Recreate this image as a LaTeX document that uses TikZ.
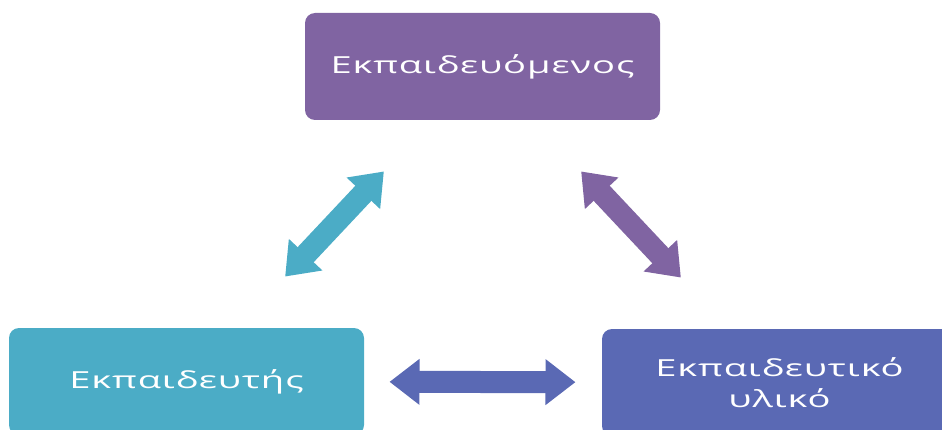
\documentclass[tikz,border=0pt]{standalone}
\usepackage{fontspec}
\setmainfont{Open Sans}[FakeStretch=1.62, LetterSpace=4]
\usetikzlibrary{arrows.meta}

\definecolor{learnerpurple}{RGB}{128,100,162}
\definecolor{teacherteal}{RGB}{75,172,198}
\definecolor{materialblue}{RGB}{90,105,180}

\tikzset{
  rolebox/.style={rectangle, rounded corners=10pt, minimum width=355pt,
    minimum height=107pt, inner sep=0pt, text=white, align=center,
    font=\fontsize{23.5}{31}\selectfont},
  linkarrow/.style={line width=22pt,
    {Triangle[length=30pt,width=44pt]}-{Triangle[length=30pt,width=44pt]}}
}

\begin{document}
\begin{tikzpicture}[x=1pt,y=1pt]
  \useasboundingbox (0,0) rectangle (942,429);
  \clip (0,0) rectangle (942,429);

  \node[rolebox, fill=learnerpurple] (learner) at (482.5,362.5) {Εκπαιδευόμενος};
  \node[rolebox, fill=teacherteal] (teacher) at (186.5,47.5) {Εκπαιδευτής};
  \node[rolebox, fill=materialblue] (material) at (779.5,46.5) {Εκπαιδευτικό\\υλικό};

  \draw[linkarrow, teacherteal, shorten <=144pt, shorten >=144pt] (learner.center) -- (teacher.center);
  \draw[linkarrow, learnerpurple, shorten <=144pt, shorten >=144pt] (learner.center) -- (material.center);
  \draw[linkarrow, materialblue, shorten <=203pt, shorten >=204pt] (teacher.center) -- (material.center);
\end{tikzpicture}
\end{document}
